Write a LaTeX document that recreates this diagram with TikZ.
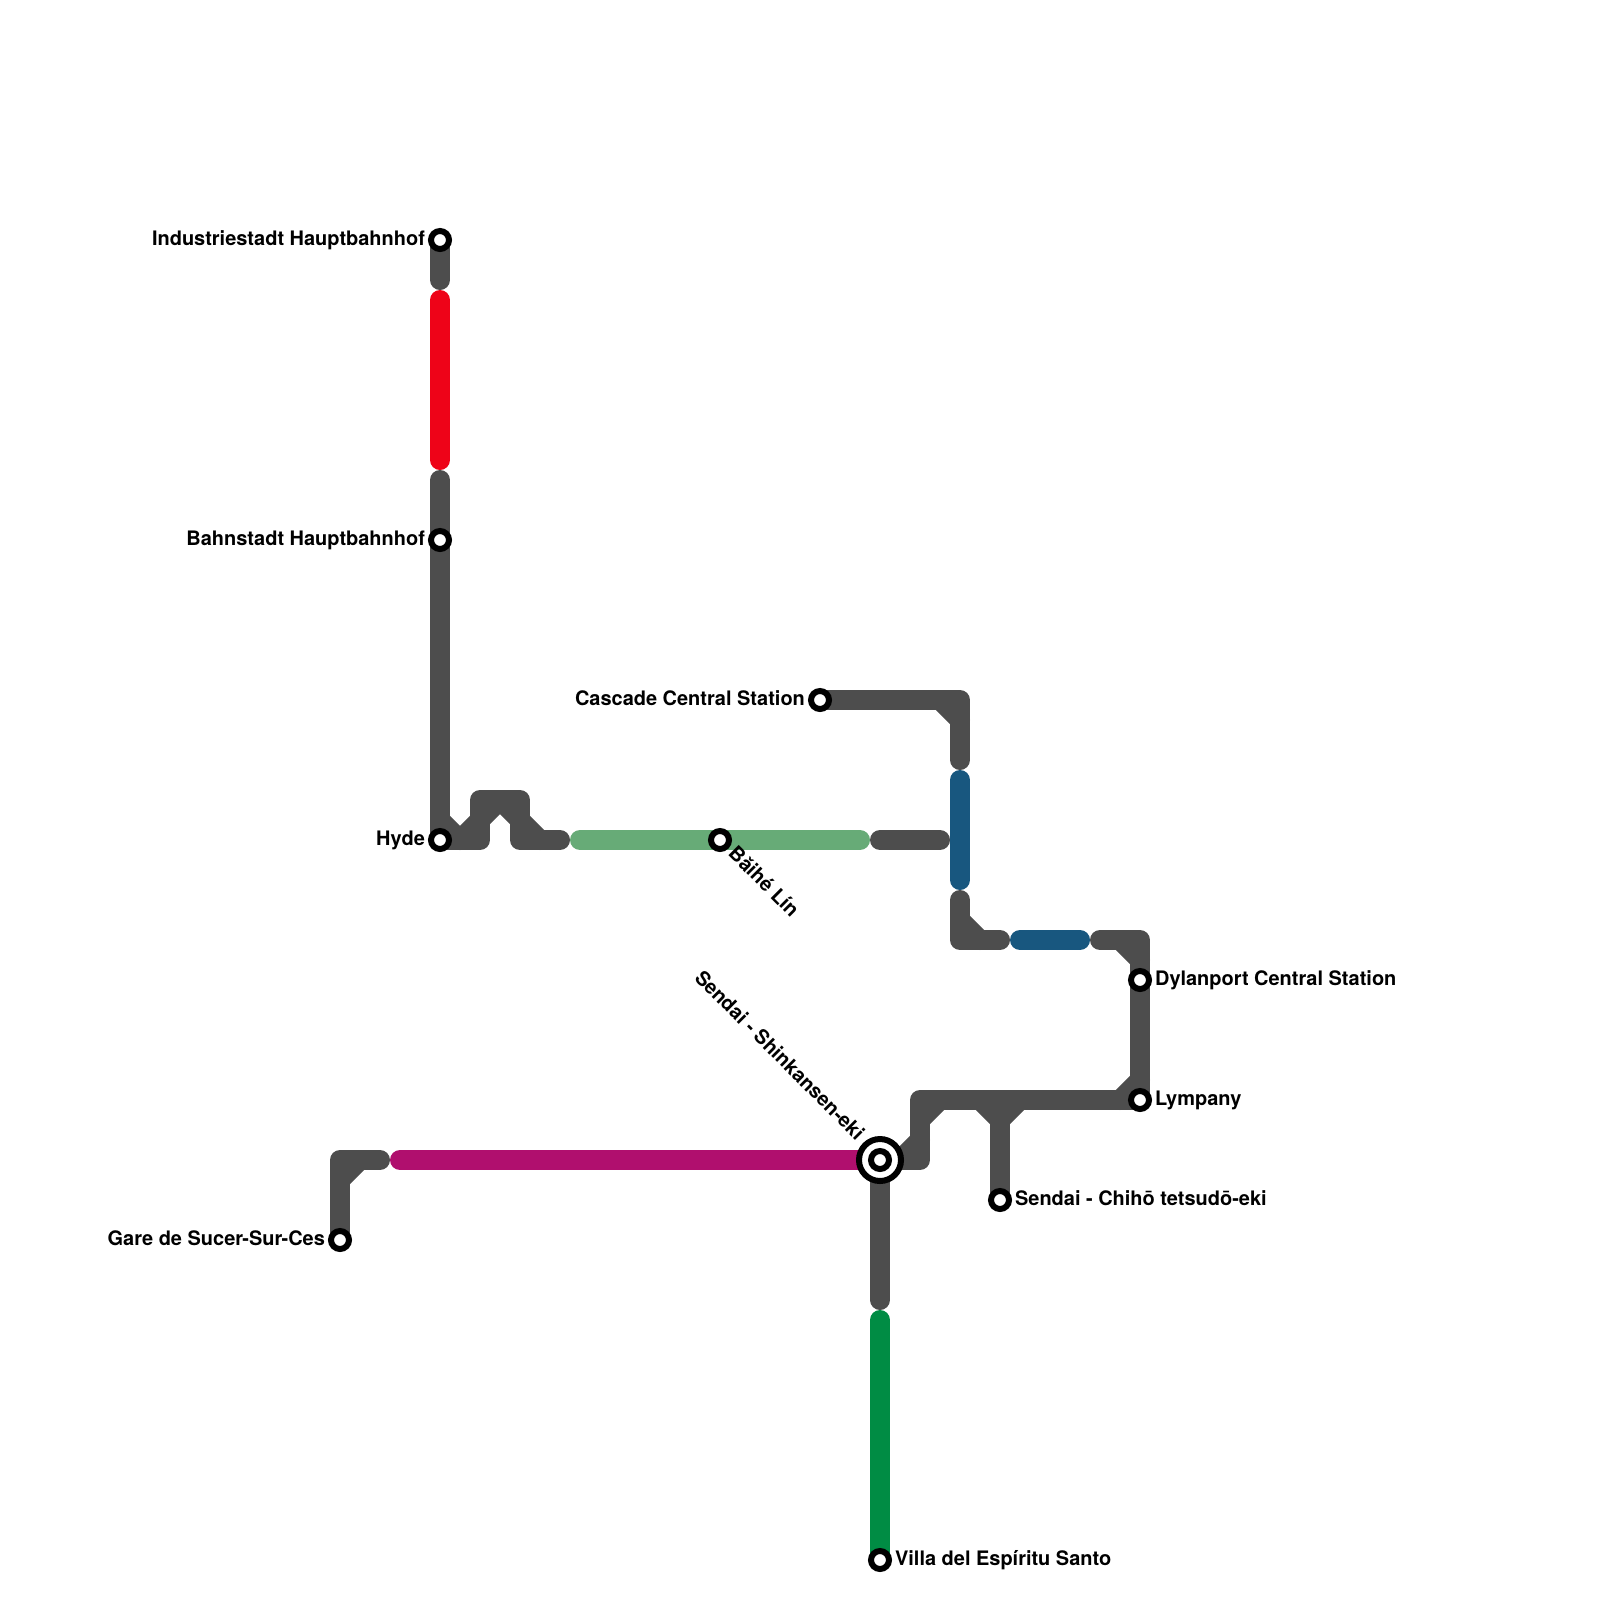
\documentclass[tikz,border=0pt]{standalone}
\usepackage{fontspec}
\setmainfont{TeX Gyre Heros}
\usepackage{xcolor}
\usetikzlibrary{positioning,calc,backgrounds}
\definecolor{Track}{HTML}{4D4D4D}
\definecolor{Rouge}{HTML}{EE0318}
\definecolor{Navy}{HTML}{18577F}
\definecolor{Sage}{HTML}{67AB77}
\definecolor{Plum}{HTML}{B00F6E}
\definecolor{Forest}{HTML}{008C44}
\tikzset{
  seg/.style={line width=0.5cm,line cap=round,line join=round},
  stn/.style={circle,draw=black,fill=white,line width=0.15cm,minimum size=0.45cm,inner sep=0pt},
  hub/.style={circle,draw=black,fill=white,line width=0.15cm,minimum size=1.05cm,inner sep=0pt},
  lbl/.style={font=\fontsize{14.2}{16}\selectfont\bfseries,inner sep=0pt,text height=10pt,text depth=2.2pt},
}

\begin{document}
\begin{tikzpicture}[x=0.5cm,y=-0.5cm]
  \useasboundingbox (0,0) rectangle (80,80);
  % stations
  \node[stn] (indust) at (22,12) {};
  \node[stn] (bahn) at (22,27) {};
  \node[stn] (hyde) at (22,42) {};
  \node[stn] (baihe) at (36,42) {};
  \node[stn] (cascade) at (41,35) {};
  \node[stn] (dylan) at (57,49) {};
  \node[stn] (lymp) at (57,55) {};
  \node[stn] (chiho) at (50,60) {};
  \node[stn] (gare) at (17,62) {};
  \node[stn] (villa) at (44,78) {};
  \node[hub] (sendai) at (44,58) {};
  \node[stn] (sendaiin) at (44,58) {};
  % labels
  \node[lbl,left=2pt of indust] (industlbl) {Industriestadt Hauptbahnhof};
  \node[lbl,left=2pt of bahn] (bahnlbl) {Bahnstadt Hauptbahnhof};
  \node[lbl,left=2pt of hyde] (hydelbl) {Hyde};
  \node[lbl,left=2pt of cascade] (cascadelbl) {Cascade Central Station};
  \node[lbl,left=2pt of gare] (garelbl) {Gare de Sucer-Sur-Ces};
  \node[lbl,right=2pt of dylan] (dylanlbl) {Dylanport Central Station};
  \node[lbl,right=2pt of lymp] (lymplbl) {Lympany};
  \node[lbl,right=2pt of chiho] (chiholbl) {Sendai - Chihō tetsudō-eki};
  \node[lbl,right=2pt of villa] (villalbl) {Villa del Espíritu Santo};
  \node[lbl,rotate=-45,anchor=west] (baihelbl) at (36.55,42.54) {Bǎihé Lín};
  \node[lbl,rotate=-45,anchor=east] (sendailbl) at (43,56.89) {Sendai - Shinkansen-eki};
  % track ends and bends
  \coordinate (a1) at (22,14);
  \coordinate (a2) at (22,15);
  \coordinate (a3) at (22,23);
  \coordinate (a4) at (22,24);
  \coordinate (b1) at (24,42);
  \coordinate (b2) at (24,40);
  \coordinate (b3) at (26,40);
  \coordinate (b4) at (26,42);
  \coordinate (b5) at (28,42);
  \coordinate (b6) at (29,42);
  \coordinate (b7) at (43,42);
  \coordinate (b8) at (44,42);
  \coordinate (b9) at (47,42);
  \coordinate (c1) at (48,35);
  \coordinate (c2) at (48,38);
  \coordinate (c3) at (48,39);
  \coordinate (c4) at (48,44);
  \coordinate (c5) at (48,45);
  \coordinate (c6) at (48,47);
  \coordinate (c7) at (50,47);
  \coordinate (c8) at (51,47);
  \coordinate (c9) at (54,47);
  \coordinate (d1) at (55,47);
  \coordinate (d2) at (57,47);
  \coordinate (e1) at (46,55);
  \coordinate (e2) at (46,58);
  \coordinate (e3) at (50,55);
  \coordinate (f1) at (44,65);
  \coordinate (f2) at (44,66);
  \coordinate (g1) at (17,58);
  \coordinate (g2) at (19,58);
  \coordinate (g3) at (20,58);
  \begin{scope}[on background layer]
    \draw[seg,Track] (indust.center) -- (a1);
    \draw[seg,Rouge] (a2) -- (a3);
    \draw[seg,Track] (a4) -- (hyde.center) -- (b1) -- (b2) -- (b3) -- (b4) -- (b5);
    \draw[seg,Sage] (b6) -- (b7);
    \draw[seg,Track] (b8) -- (b9);
    \draw[seg,Track] (cascade.center) -- (c1) -- (c2);
    \draw[seg,Navy] (c3) -- (c4);
    \draw[seg,Track] (c5) -- (c6) -- (c7);
    \draw[seg,Navy] (c8) -- (c9);
    \draw[seg,Track] (d1) -- (d2) -- (lymp.center) -- (e1) -- (e2) -- (sendai.center);
    \draw[seg,Track] (e3) -- (chiho.center);
    \draw[seg,Track] (sendai.center) -- (f1);
    \draw[seg,Forest] (f2) -- (villa.center);
    \draw[seg,Track] (gare.center) -- (g1) -- (g2);
    \draw[seg,Plum] (g3) -- (sendai.center);
    % inner corners
    \foreach \c/\dx/\dy in {hyde.center/1/-1,b1/-1/-1,b2/1/1,b3/-1/1,b4/1/-1,c1/-1/1,c6/1/-1,
      d2/-1/1,lymp.center/-1/-1,e1/1/1,e2/-1/-1,e3/-1/1,e3/1/1,g1/1/1} {
      \draw[seg,Track] ($(\c)+(\dx,0)$) -- ($(\c)+(0,\dy)$);
    }
  \end{scope}
\end{tikzpicture}
\end{document}
